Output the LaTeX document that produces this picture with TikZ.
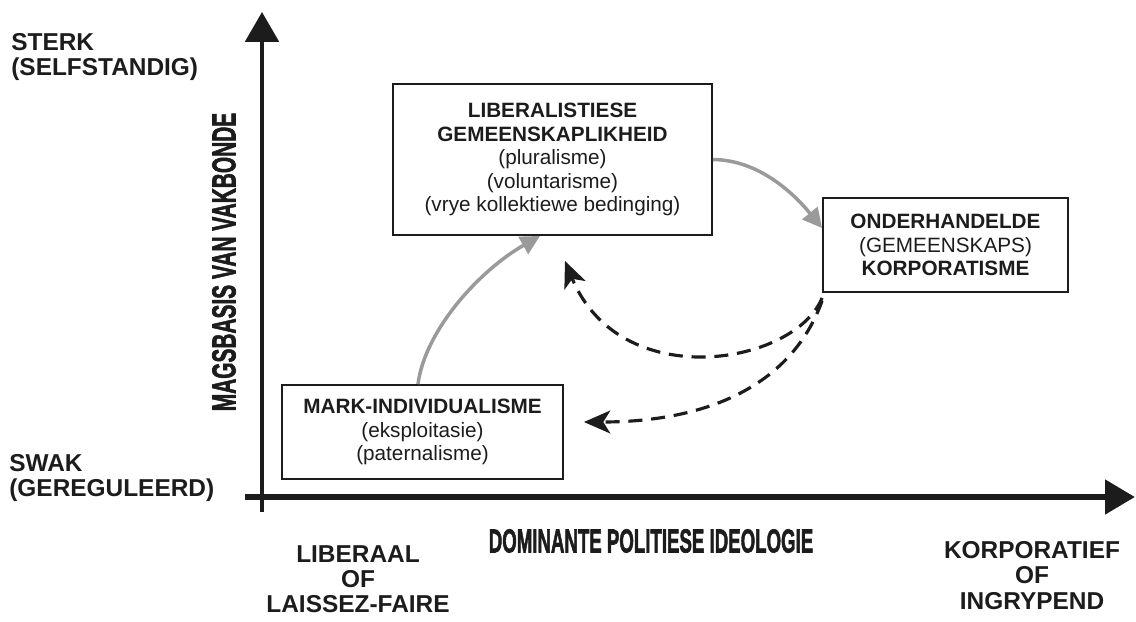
\documentclass[tikz,border=0pt]{standalone}
\usepackage{fontspec}
\setmainfont{Liberation Sans}
\newfontfamily\heavyfont{Liberation Sans Bold}[FakeBold=2.2]
\usetikzlibrary{arrows.meta}
\definecolor{ink}{HTML}{1C1C1C}
\definecolor{stipple}{HTML}{9A9A9A}
\tikzset{
  box/.style={draw=ink, line width=1.1pt, inner sep=0pt, align=center, text=ink,
    font=\fontsize{11.8}{13.4}\selectfont},
  axislabel/.style={inner sep=0pt, text=ink, font=\fontsize{13.9}{14.4}\selectfont\bfseries},
  axistitle/.style={inner sep=0pt, text=ink, font=\fontsize{18}{19}\heavyfont},
  axisline/.style={draw=ink, -{Triangle[length=17pt,width=19pt]}},
  shiftarrow/.style={draw=stipple, line width=2pt, -{Triangle[length=11pt,width=11pt]}},
  fallback/.style={draw=ink, line width=1.8pt, dash pattern=on 8pt off 5pt,
    -{Stealth[length=15pt,width=13pt,inset=4pt]}},
}
\begin{document}
\begin{tikzpicture}[x=0.02cm,y=-0.02cm]
\useasboundingbox (0,0) rectangle (1136,622);

% axes
\coordinate (ybot) at (262,512);
\coordinate (ytop) at (262,12);
\coordinate (xleft) at (245,497);
\coordinate (xright) at (1135,497);
\draw[axisline, line width=2.3pt] (ybot) -- (ytop);
\draw[axisline, line width=3.6pt] (xleft) -- (xright);

% axis titles
\node[axistitle, rotate=90] (ytitle) at (224,262)
  {\scalebox{0.66}[1.05]{MAGSBASIS VAN VAKBONDE}};
\node[axistitle] (xtitle) at (651,541)
  {\scalebox{0.59}[1.05]{DOMINANTE POLITIESE IDEOLOGIE}};

% end labels of the axes
\node[axislabel, anchor=north west, align=left] (sterk) at (11,33)
  {STERK\\(SELFSTANDIG)};
\node[axislabel, anchor=north west, align=left] (swak) at (9,454)
  {SWAK\\(GEREGULEERD)};
\node[axislabel, anchor=north, align=center] (liberaal) at (358,545)
  {LIBERAAL\\OF\\LAISSEZ-FAIRE};
\node[axislabel, anchor=north, align=center] (korporatief) at (1032,541)
  {KORPORATIEF\\OF\\INGRYPEND};

% the three regimes
\node[box, minimum width=63.8mm, minimum height=30.2mm] (lib) at (552.5,159.5)
  {\textbf{LIBERALISTIESE}\\\textbf{GEMEENSKAPLIKHEID}\\(pluralisme)\\(voluntarisme)\\(vrye kollektiewe bedinging)};
\node[box, minimum width=49mm, minimum height=18.8mm] (ond) at (945.5,245)
  {\textbf{ONDERHANDELDE}\\(GEMEENSKAPS)\\\textbf{KORPORATISME}};
\node[box, minimum width=56.2mm, minimum height=18.8mm] (mark) at (422.5,432)
  {\textbf{MARK-INDIVIDUALISME}\\(eksploitasie)\\(paternalisme)};

% forward development
\draw[shiftarrow] ([xshift=-0.9mm]mark.north)
  .. controls (425,330) and (480,270) .. ([xshift=-2.5mm]lib.south);
\draw[shiftarrow] (lib.east)
  .. controls (760,160) and (795,195) .. ([yshift=3.4mm]ond.west);

% fallback paths
\coordinate (back1) at ([xshift=2.5mm,yshift=-5mm]lib.south);
\draw[fallback] ([yshift=-1mm]ond.south west)
  .. controls (795,365) and (620,395) .. (back1);
\draw[fallback] ([yshift=-1.6mm]ond.south west)
  .. controls (790,390) and (700,422) .. ([xshift=4mm,yshift=2mm]mark.east);
\end{tikzpicture}
\end{document}
